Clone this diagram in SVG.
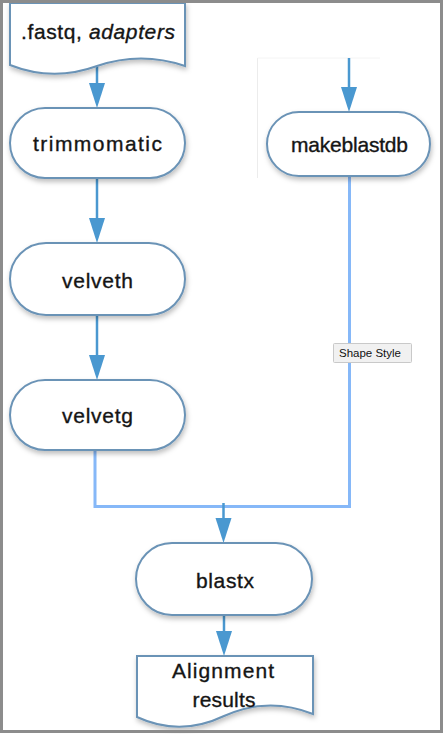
<svg xmlns="http://www.w3.org/2000/svg" width="444" height="734" viewBox="0 0 444 734">
<style>
.node{fill:#ffffff;stroke:#6b93b6;stroke-width:2;filter:url(#sh)}
.lbl{font-family:"Liberation Sans",Arial,sans-serif;font-size:21px;fill:#151515;stroke:#151515;stroke-width:0.35;text-anchor:middle}
.arr{stroke:#4a98d0;stroke-width:2.5;fill:none}
.sel{stroke:#86b8f8;stroke-width:3;fill:none}
.tip{font-family:"Liberation Sans",Arial,sans-serif;font-size:11.5px;fill:#111}
</style>
<defs>
<filter id="sh" x="-10%" y="-15%" width="125%" height="140%">
<feDropShadow dx="1" dy="3" stdDeviation="2.5" flood-color="#000" flood-opacity="0.25"/>
</filter>
</defs>
<rect x="0" y="0" width="444" height="734" fill="#ffffff"/>
<g id="bg-artifacts" stroke="#ececec" stroke-width="1" fill="none">
<line x1="257.5" y1="58" x2="257.5" y2="178"/>
<line x1="257.5" y1="58" x2="380" y2="58" stroke="#f4f4f4"/>
</g>
<g id="connectors">
<line class="arr" x1="97" y1="67" x2="97" y2="84"/>
<path d="M89,83 L105,83 L97,108 Z" fill="#4a98d0"/>
<line class="arr" x1="97" y1="178" x2="97" y2="219"/>
<path d="M89,218 L105,218 L97,243 Z" fill="#4a98d0"/>
<line class="arr" x1="97" y1="315" x2="97" y2="356"/>
<path d="M89,355 L105,355 L97,380 Z" fill="#4a98d0"/>
<line class="arr" x1="349" y1="58" x2="349" y2="88"/>
<path d="M341,87 L357,87 L349,112 Z" fill="#4a98d0"/>
<path class="sel" d="M95,451 V506.5 H349.5 V176"/>
<line class="arr" x1="223.5" y1="503" x2="223.5" y2="519"/>
<path d="M215.5,518 L231.5,518 L223.5,543 Z" fill="#4a98d0"/>
<line class="arr" x1="224" y1="615" x2="224" y2="632"/>
<path d="M216,631 L232,631 L224,656 Z" fill="#4a98d0"/>
</g>
<g id="n-fastq">
<path class="node" d="M10,3 H185 V66 Q141,51 97,66 Q53,82 10,65 Z"/>
<text class="lbl" x="98" y="39" textLength="154" lengthAdjust="spacing">.fastq, <tspan font-style="italic">adapters</tspan></text>
</g>
<g id="n-trimmomatic">
<rect class="node" x="10" y="108" width="175" height="70" rx="35"/>
<text class="lbl" x="97.5" y="151" textLength="129" lengthAdjust="spacing">trimmomatic</text>
</g>
<g id="n-velveth">
<rect class="node" x="10" y="243" width="175" height="72" rx="36"/>
<text class="lbl" x="97.5" y="288" textLength="71" lengthAdjust="spacing">velveth</text>
</g>
<g id="n-velvetg">
<rect class="node" x="10" y="380" width="175" height="70" rx="35"/>
<text class="lbl" x="97.5" y="423" textLength="71" lengthAdjust="spacing">velvetg</text>
</g>
<g id="n-makeblastdb">
<rect class="node" x="267" y="112" width="163" height="64" rx="32"/>
<text class="lbl" x="349.5" y="152" textLength="117" lengthAdjust="spacing">makeblastdb</text>
</g>
<g id="n-blastx">
<rect class="node" x="136" y="543" width="176" height="72" rx="36"/>
<text class="lbl" x="225" y="588" textLength="58" lengthAdjust="spacing">blastx</text>
</g>
<g id="n-alignment">
<path class="node" d="M137,656 H313 V714 Q268,696 224,716 Q180,737 137,717 Z"/>
<text class="lbl" x="223" y="678" textLength="102" lengthAdjust="spacing">Alignment</text>
<text class="lbl" x="224" y="707" textLength="63" lengthAdjust="spacing">results</text>
</g>
<g id="tooltip">
<rect x="333.5" y="343.5" width="78" height="19" fill="#f1f1f1" stroke="#c9c9c9" stroke-width="1" rx="1"/>
<text class="tip" x="339" y="357" textLength="62" lengthAdjust="spacingAndGlyphs">Shape Style</text>
</g>
<rect x="1.5" y="1.5" width="440" height="730" fill="none" stroke="#8c8c8c" stroke-width="3"/>
</svg>
